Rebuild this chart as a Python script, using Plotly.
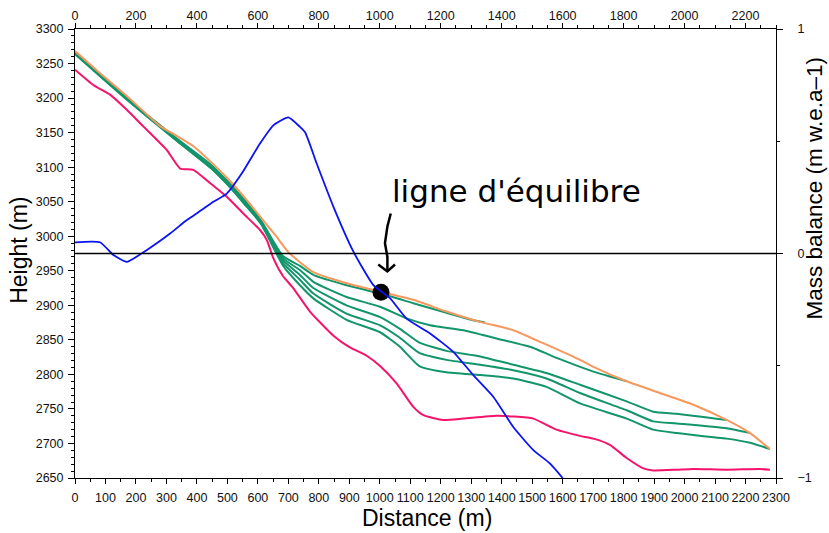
import plotly.graph_objects as go

# ---- Surface profiles: distance along flowline (m) and surface height (m) ----
dist_top = [0, 85, 170, 280, 335, 390, 445, 500, 555, 610, 660, 700, 782, 891, 1001,
            1110, 1219, 1329, 1438, 1547, 1657, 1701, 1810, 1919, 2029, 2138, 2215, 2280]
h_top = [3268, 3235, 3203, 3159, 3145, 3130, 3108, 3084, 3057, 3027, 3000, 2977, 2948, 2932, 2920,
         2908, 2891, 2876, 2864, 2843, 2821, 2811, 2790, 2773, 2756, 2734, 2715, 2692]

dist_g1 = [0, 170, 335, 445, 500, 555, 610, 683, 738, 782, 891, 1001, 1110, 1219, 1300, 1345]
h_g1 = [3266, 3200, 3141, 3104, 3080, 3053, 3023, 2971, 2957, 2944, 2929, 2917, 2903, 2889, 2879, 2875]

dist_g2 = [0, 170, 335, 445, 500, 555, 610, 683, 738, 782, 891, 1001, 1088, 1165, 1274, 1383,
           1493, 1591, 1701, 1810]
h_g2 = [3265, 3199, 3139, 3101, 3077, 3050, 3021, 2968, 2951, 2934, 2912, 2898, 2881, 2871, 2864, 2852,
        2840, 2822, 2804, 2790]

dist_g3 = [0, 170, 335, 445, 500, 555, 610, 683, 738, 782, 891, 1001, 1066, 1130, 1219, 1329,
           1438, 1547, 1657, 1810, 1897, 1974, 2138]
h_g3 = [3265, 3199, 3139, 3100, 3076, 3049, 3020, 2965, 2944, 2925, 2900, 2883, 2866, 2846, 2834, 2826,
        2814, 2802, 2785, 2761, 2746, 2743, 2734]

dist_g4 = [0, 170, 335, 445, 500, 555, 610, 683, 738, 782, 891, 1001, 1066, 1130, 1219, 1329, 1438,
           1547, 1657, 1810, 1897, 1974, 2138, 2215]
h_g4 = [3264, 3198, 3138, 3099, 3075, 3048, 3019, 2961, 2937, 2917, 2888, 2871, 2853, 2831, 2821, 2814,
        2806, 2794, 2773, 2748, 2732, 2729, 2722, 2715]

dist_g5 = [0, 170, 335, 445, 500, 555, 610, 683, 738, 782, 891, 1001, 1066, 1130, 1219, 1329, 1438,
           1547, 1657, 1810, 1897, 1974, 2138, 2215, 2280]
h_g5 = [3264, 3198, 3138, 3099, 3075, 3047, 3018, 2957, 2929, 2910, 2879, 2861, 2840, 2812, 2803, 2799,
        2794, 2782, 2758, 2736, 2720, 2715, 2707, 2701, 2692]

dist_low = [0, 60, 115, 170, 224, 279, 301, 345, 388, 443, 498, 552, 607, 629, 651, 683, 716, 771,
            848, 902, 957, 1001, 1055, 1110, 1143, 1208, 1274, 1383, 1438, 1504, 1580, 1657, 1701,
            1755, 1810, 1865, 1897, 1974, 2029, 2138, 2247, 2280]
h_low = [3241, 3219, 3205, 3183, 3159, 3135, 3125, 3098, 3096, 3077, 3057, 3033, 3009, 2995, 2968,
         2942, 2925, 2891, 2856, 2839, 2827, 2812, 2787, 2753, 2741, 2734, 2736, 2740, 2739, 2736,
         2720, 2711, 2707, 2698, 2679, 2664, 2661, 2662, 2663, 2662, 2663, 2662]

# ---- Mass balance along the flowline (m w.e. a-1) ----
dist_mb = [0, 82, 126, 170, 235, 312, 366, 399, 454, 498, 547, 607, 651, 700, 738, 755, 793, 848,
           914, 979, 1034, 1088, 1165, 1241, 1307, 1373, 1438, 1504, 1558, 1600]
mass_balance = [0.05, 0.05, -0.007, -0.037, 0.015, 0.089, 0.148, 0.178, 0.23, 0.267, 0.356, 0.49,
                0.571, 0.606, 0.564, 0.54, 0.401, 0.208, 0.007, -0.141, -0.2, -0.29, -0.356,
                -0.438, -0.542, -0.639, -0.773, -0.876, -0.935, -1.0]

# ---- Equilibrium line point ----
eq_dist = 1004
eq_height = 2919
eq_label = "ligne d'équilibre"

GREEN = "#12956a"
ORANGE = "#f7985e"
PINK = "#f5136b"
BLUE = "#0b13f2"
TICKFONT = dict(family="Liberation Sans, Arial, sans-serif", size=12.5, color="#111111")
TITLEFONT = dict(family="Liberation Sans, Arial, sans-serif", size=23, color="#000000")
SMOOTH = 0.5

fig = go.Figure()

fig.add_trace(go.Scatter(x=dist_low, y=h_low, mode="lines",
                         line=dict(color=PINK, width=2, shape="spline", smoothing=SMOOTH),
                         hoverinfo="skip"))
for xs, hs in [(dist_g5, h_g5), (dist_g4, h_g4), (dist_g3, h_g3), (dist_g2, h_g2), (dist_g1, h_g1)]:
    fig.add_trace(go.Scatter(x=xs, y=hs, mode="lines",
                             line=dict(color=GREEN, width=2, shape="spline", smoothing=SMOOTH),
                             hoverinfo="skip"))
fig.add_trace(go.Scatter(x=dist_top, y=h_top, mode="lines",
                         line=dict(color=ORANGE, width=2, shape="spline", smoothing=SMOOTH),
                         hoverinfo="skip"))
fig.add_trace(go.Scatter(x=dist_mb, y=mass_balance, mode="lines", yaxis="y2",
                         line=dict(color=BLUE, width=1.8, shape="spline", smoothing=SMOOTH),
                         hoverinfo="skip"))
fig.add_trace(go.Scatter(x=[eq_dist], y=[eq_height], mode="markers",
                         marker=dict(color="black", size=17), hoverinfo="skip"))
# carrier trace so the top distance axis is drawn
fig.add_trace(go.Scatter(x=[0, 2300], y=[2650, 2650], xaxis="x2", mode="lines",
                         line=dict(width=0), hoverinfo="skip"))

# hand-drawn style arrow pointing down at the equilibrium point
arrow_stem = [(32, 114), (21, 95), (13, 71), (21, 51), (21, 30)]
arrow_head = [(-9, 40), (21, 30), (46, 40)]


def to_path(pts):
    return "M " + " L ".join(f"{eq_dist + dx},{eq_height + dy}" for dx, dy in pts)


shapes = [
    dict(type="line", xref="paper", x0=0, x1=1, yref="y2", y0=0, y1=0,
         line=dict(color="black", width=1.5)),
    dict(type="path", xref="x", yref="y", path=to_path(arrow_stem),
         line=dict(color="black", width=2.5)),
    dict(type="path", xref="x", yref="y", path=to_path(arrow_head),
         line=dict(color="black", width=2.5)),
]

annotations = [
    dict(text=eq_label, x=eq_dist + 30, y=eq_height + 147, xref="x", yref="y",
         xanchor="left", yanchor="middle", showarrow=False,
         font=dict(family="DejaVu Sans", size=31, color="black")),
    dict(text="Distance (m)", xref="paper", yref="paper", x=0.502, y=-0.089,
         xanchor="center", yanchor="middle", showarrow=False, font=TITLEFONT),
    dict(text="Height (m)", xref="paper", yref="paper", x=-0.08, y=0.508,
         xanchor="center", yanchor="middle", showarrow=False, textangle=-90, font=TITLEFONT),
    dict(text="Mass balance (m w.e.a–1)", xref="paper", yref="paper", x=1.055, y=0.646,
         xanchor="center", yanchor="middle", showarrow=False, textangle=-90,
         font=dict(family="Liberation Sans, Arial, sans-serif", size=22.5, color="#000000")),
]

axis_common = dict(showgrid=False, zeroline=False, showline=True, linecolor="black",
                   linewidth=1, ticks="outside", tickcolor="black", tickwidth=1,
                   tickfont=TICKFONT, automargin=False)

fig.update_layout(
    width=829, height=533,
    margin=dict(l=75, r=53, t=29, b=55),
    paper_bgcolor="white", plot_bgcolor="white",
    showlegend=False,
    xaxis=dict(range=[0, 2300], tick0=0, dtick=100, ticklen=5, ticklabelstandoff=3,
               minor=dict(dtick=50, ticks="outside", ticklen=3, tickcolor="black"),
               **axis_common),
    xaxis2=dict(range=[0, 2300], tick0=0, dtick=200, ticklen=5, overlaying="x",
                side="top", anchor="y", ticklabelstandoff=-2,
                minor=dict(dtick=50, ticks="outside", ticklen=3, tickcolor="black"),
                **axis_common),
    yaxis=dict(range=[2650, 3300], tick0=2650, dtick=50, ticklen=6, ticklabelstandoff=2,
               minor=dict(dtick=10, ticks="outside", ticklen=3, tickcolor="black"),
               **axis_common),
    yaxis2=dict(range=[-1, 1], tick0=-1, dtick=1, ticklen=6, overlaying="y",
                side="right", anchor="x", ticklabelstandoff=12,
                minor=dict(dtick=0.5, ticks="outside", ticklen=3, tickcolor="black"),
                **axis_common),
    shapes=shapes,
    annotations=annotations,
)

fig.write_html("out.html")
